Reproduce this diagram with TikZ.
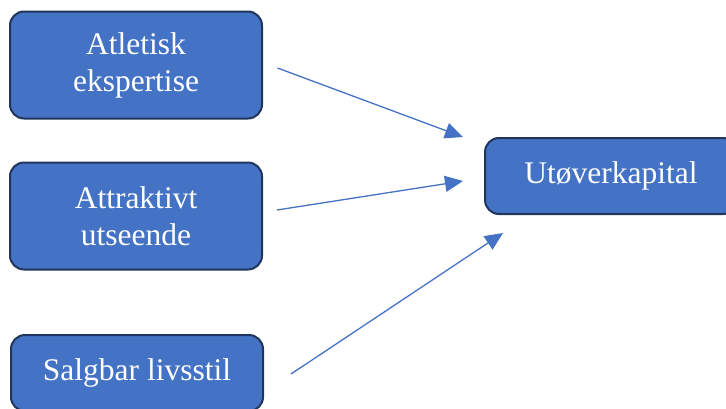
\documentclass[tikz,border=0pt]{standalone}
\usepackage{fontspec}
\setmainfont{Liberation Serif}
\usetikzlibrary{arrows.meta,positioning}
\definecolor{boxblue}{RGB}{68,114,196}
\definecolor{boxedge}{RGB}{32,52,92}
\tikzset{
  factor/.style={draw=boxedge,line width=2pt,fill=boxblue,rounded corners=14pt,
                 minimum width=252pt,minimum height=107pt,align=center,
                 text=white,font=\fontsize{31.5}{37}\selectfont,inner sep=0pt},
  small/.style={factor,minimum height=76pt},
  link/.style={-{Triangle[length=18pt,width=16pt]},draw=boxblue,line width=1.3pt},
}

\begin{document}
\begin{tikzpicture}[x=1pt,y=-1pt]
  \useasboundingbox (0,0) rectangle (726,408);

  \node[factor] (atl) at (136,65) {Atletisk\\ekspertise};
  \node[factor] (att) at (136,216) {Attraktivt\\utseende};
  \node[small] (sal) at (137,373) {Salgbar livsstil};
  \node[small] (utk) at (611,176) {Utøverkapital};

  % free ends of the arrows
  \coordinate (a1) at (277.5,68);
  \coordinate (b1) at (463,137);
  \coordinate (a2) at (277,210);
  \coordinate (b2) at (463,181);
  \coordinate (a3) at (291,374);
  \coordinate (b3) at (503,233);

  \draw[link] (a1) -- (b1);
  \draw[link] (a2) -- (b2);
  \draw[link] (a3) -- (b3);
\end{tikzpicture}
\end{document}
